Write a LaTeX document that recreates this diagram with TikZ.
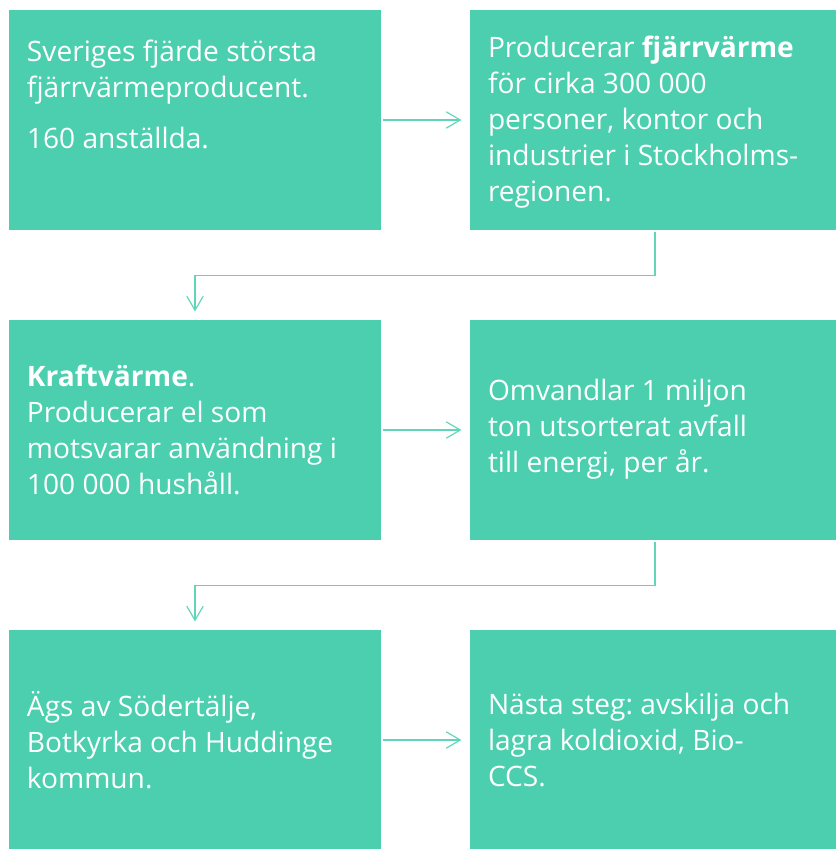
\documentclass[tikz,border=0pt]{standalone}
\usepackage{fontspec}
\setmainfont{Open Sans}
\usepackage{xcolor}
\usetikzlibrary{arrows.meta}
\frenchspacing
\definecolor{gron}{HTML}{4BCFAF}
\definecolor{pil}{HTML}{5FD6B9}
\tikzset{
  ruta/.style={fill=gron, minimum width=#1, minimum height=6.6cm, inner sep=0pt},
  txt/.style={text=white, align=left, inner sep=0pt, font=\fontsize{24}{30.8}\selectfont},
  flode/.style={draw=pil, line width=1pt, -{Straight Barb[length=12pt,width=14pt,line width=1pt]},
    shorten <=0.06cm, shorten >=0.25cm},
}
\begin{document}
\begin{tikzpicture}[x=0.03cm,y=-0.03cm]
        \useasboundingbox (0,0) rectangle (836,849);
        %画方框
        \node[ruta=11.16cm] (b1) at (195,120) {};
        \node[ruta=10.98cm] (b2) at (653,120) {};
        \node[ruta=11.16cm] (b3) at (195,430) {};
        \node[ruta=10.98cm] (b4) at (653,430) {};
        \node[ruta=11.16cm] (b5) at (195,740) {};
        \node[ruta=10.98cm] (b6) at (653,740) {};
        %文字
        \node[txt, anchor=north west] (t1) at ([xshift=0.54cm,yshift=-0.9cm]b1.north west)
                {Sveriges fjärde största\\ fjärrvärmeproducent.\\[13pt] 160 anställda.};
        \node[txt, anchor=west] (t2) at ([xshift=0.54cm,yshift=-0.06cm]b2.west)
                {Producerar \textbf{fjärrvärme}\\ för cirka 300 000\\ personer, kontor och\\ industrier i Stockholms-\\ regionen.};
        \node[txt, anchor=west] (t3) at ([xshift=0.54cm]b3.west)
                {\textbf{Kraftvärme}.\\ Producerar el som\\ motsvarar användning i\\ 100 000 hushåll.};
        \node[txt, anchor=west] (t4) at ([xshift=0.54cm,yshift=0.03cm]b4.west)
                {Omvandlar 1 miljon\\ ton utsorterat avfall\\ till energi, per år.};
        \node[txt, anchor=west] (t5) at ([xshift=0.54cm]b5.west)
                {Ägs av Södertälje,\\ Botkyrka och Huddinge\\ kommun.};
        \node[txt, anchor=west] (t6) at ([xshift=0.54cm]b6.west)
                {Nästa steg: avskilja och\\ lagra koldioxid, Bio-\\ CCS.};
        %画箭头
        \draw[flode] (b1.east) -- (b2.west);
        \draw[flode] (b3.east) -- (b4.west);
        \draw[flode] (b5.east) -- (b6.west);
        \draw[flode] ([xshift=0.06cm]b2.south) -- ++(0,45) -| (b3.north);
        \draw[flode] ([xshift=0.06cm]b4.south) -- ++(0,45) -| (b5.north);
\end{tikzpicture}
\end{document}
